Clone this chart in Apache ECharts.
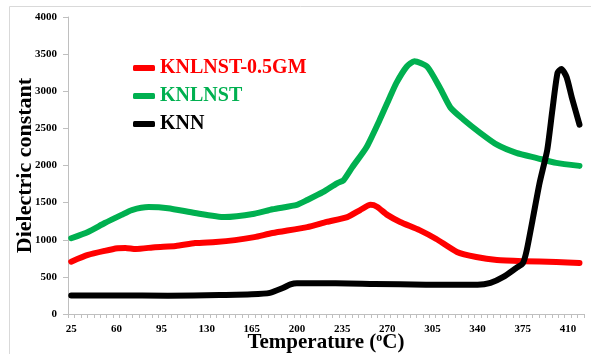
<!DOCTYPE html>
<html>
<head>
<meta charset="utf-8">
<script src="https://cdn.jsdelivr.net/npm/echarts@6/dist/echarts.min.js"></script>
<style>
  html, body { margin: 0; padding: 0; background: #fff; }
  #chart { width: 591px; height: 354px; }
</style>
</head>
<body>
<div id="chart"></div>
<script>
// temperature (°C) and dielectric constant per sample
const gmTemp = [25, 38, 51, 61, 67, 75, 90, 106, 121, 137, 152, 167, 181, 208, 223, 239, 249, 257, 262, 270, 280, 295, 308, 324, 339, 355, 375, 401, 419];
const gmEps = [705, 795, 850, 885, 890, 875, 900, 915, 955, 970, 995, 1035, 1090, 1170, 1240, 1305, 1400, 1470, 1445, 1335, 1240, 1130, 1010, 836, 768, 728, 712, 700, 687];

const knlnstTemp = [25, 38, 51, 64, 72, 85, 100, 121, 144, 167, 181, 200, 208, 220, 231, 236, 243, 254, 264, 272, 277, 285, 291, 301, 311, 319, 329, 342, 355, 370, 386, 401, 419];
const knlnstEps = [1020, 1105, 1225, 1335, 1400, 1440, 1425, 1360, 1305, 1350, 1410, 1470, 1535, 1640, 1760, 1800, 1980, 2250, 2610, 2920, 3110, 3330, 3405, 3330, 3040, 2780, 2620, 2440, 2280, 2170, 2100, 2035, 1995];

const knnTemp = [25, 60, 100, 140, 165, 179, 189, 195, 200, 230, 260, 300, 340, 350, 360, 370, 375, 378, 383, 388, 394, 398, 402, 405, 409, 413, 419];
const knnEps = [250, 250, 245, 255, 265, 285, 350, 400, 415, 415, 405, 395, 395, 420, 500, 620, 680, 850, 1300, 1760, 2210, 2750, 3250, 3300, 3190, 2920, 2550];

const xLabels = [25, 60, 95, 130, 165, 200, 235, 270, 305, 340, 375, 410];
const xTicks = [];
for (let t = 22.5; t <= 422.5; t += 5) xTicks.push(t);

const font = "'Liberation Serif', 'DejaVu Serif', serif";
const pair = (xs, ys) => xs.map((x, i) => [x, ys[i]]);

const chart = echarts.init(document.getElementById("chart"));

const lineSeries = (name, color, xs, ys) => ({
  name: name,
  type: "line",
  data: pair(xs, ys),
  smooth: 0.2,
  showSymbol: false,
  color: color,
  lineStyle: { width: 6, color: color, cap: "round", join: "round" },
});

chart.setOption({
  animation: false,
  graphic: [
    {
      type: "rect",
      shape: { x: 9.5, y: 6.5, width: 640, height: 400 },
      style: { fill: null, stroke: "#d9d9d9", lineWidth: 1 },
    },
  ],
  grid: { left: 68, right: 7, top: 17, bottom: 40, outerBoundsMode: "none" },
  legend: {
    orient: "vertical",
    left: 128,
    top: 53,
    itemWidth: 22,
    itemHeight: 6,
    itemGap: 8,
    icon: "roundRect",
    textStyle: { fontFamily: font, fontWeight: "bold", fontSize: 20 },
    data: [
      { name: "KNLNST-0.5GM", textStyle: { color: "#ff0000" } },
      { name: "KNLNST", textStyle: { color: "#00b050" } },
      { name: "KNN", textStyle: { color: "#000000" } },
    ],
  },
  xAxis: {
    type: "value",
    min: 22.5,
    max: 422.5,
    name: "Temperature ({sup|o}C)",
    nameLocation: "middle",
    nameGap: 18,
    nameMoveOverlap: false,
    nameTextStyle: {
      fontFamily: font,
      fontWeight: "bold",
      fontSize: 21,
      color: "#000",
      rich: {
        sup: { fontFamily: font, fontWeight: "bold", fontSize: 12, verticalAlign: "top", padding: [0, 0, 8, 0], color: "#000" },
      },
    },
    splitLine: { show: false },
    axisLine: { lineStyle: { color: "#bfbfbf" } },
    axisTick: { show: true, customValues: xTicks, length: 4, lineStyle: { color: "#bfbfbf" } },
    axisLabel: {
      customValues: xLabels,
      fontFamily: font,
      fontWeight: "bold",
      fontSize: 11,
      color: "#000",
      margin: 10,
    },
  },
  yAxis: {
    type: "value",
    min: 0,
    max: 4000,
    interval: 500,
    name: "Dielectric constant",
    nameLocation: "middle",
    nameGap: 32,
    nameMoveOverlap: false,
    nameTextStyle: { fontFamily: font, fontWeight: "bold", fontSize: 22, color: "#000" },
    splitLine: { show: false },
    axisLine: { show: true, lineStyle: { color: "#bfbfbf" } },
    axisTick: { show: true, length: 5, lineStyle: { color: "#bfbfbf" } },
    axisLabel: {
      fontFamily: font,
      fontWeight: "bold",
      fontSize: 11,
      color: "#000",
      margin: 11,
      formatter: (v) => String(v),
    },
  },
  series: [
    lineSeries("KNLNST-0.5GM", "#ff0000", gmTemp, gmEps),
    lineSeries("KNLNST", "#00b050", knlnstTemp, knlnstEps),
    lineSeries("KNN", "#000000", knnTemp, knnEps),
  ],
});
</script>
</body>
</html>
